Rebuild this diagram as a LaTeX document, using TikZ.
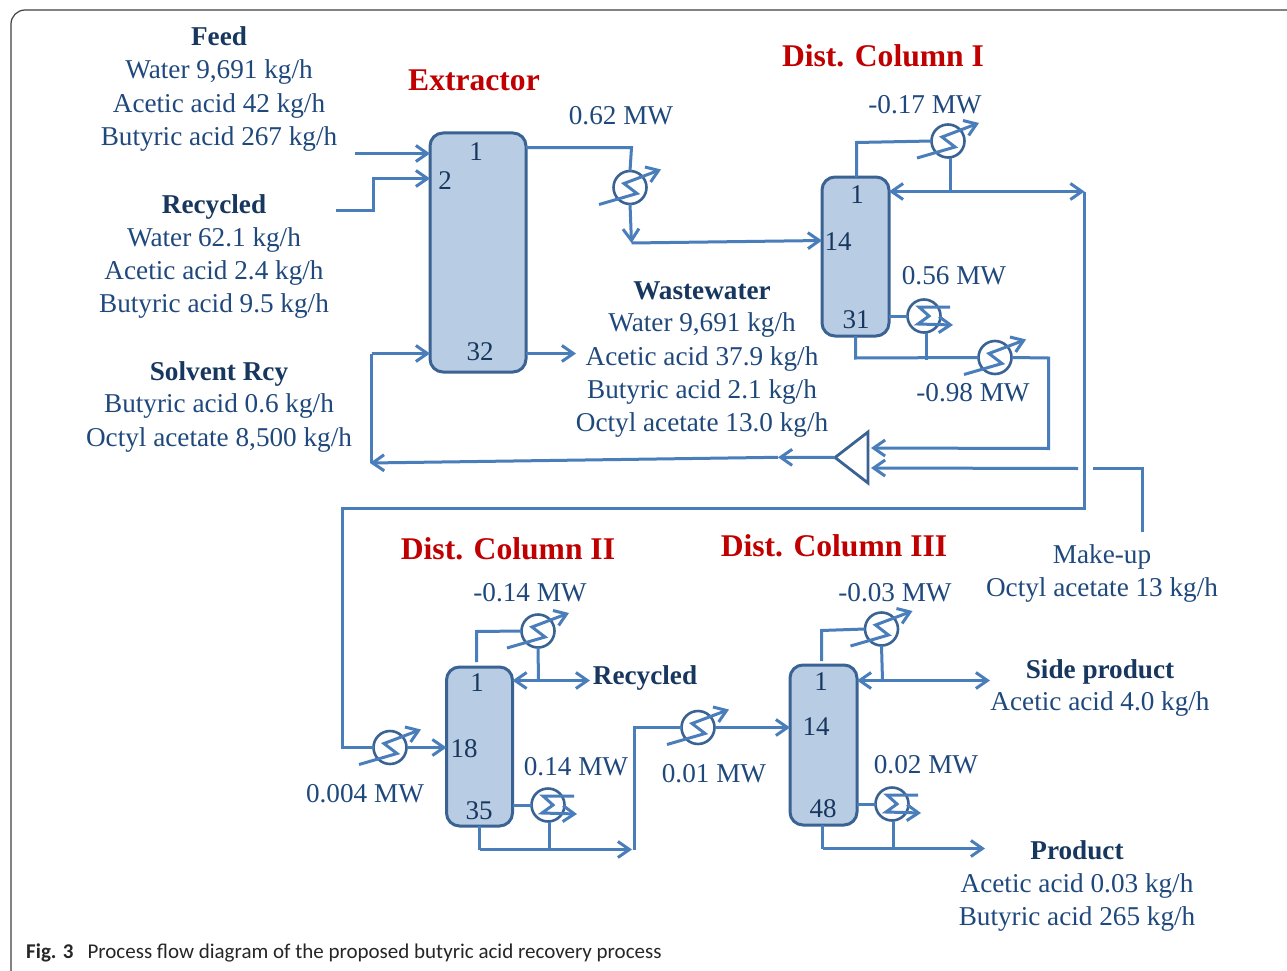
\documentclass[tikz,border=0pt]{standalone}
\usepackage{fontspec}
\setmainfont{Liberation Serif}
\newfontfamily\capfont{Carlito}
\usetikzlibrary{arrows.meta}
\definecolor{pipec}{HTML}{4A7EBB}
\definecolor{colfill}{HTML}{B8CCE4}
\definecolor{coledge}{HTML}{3A6394}
\definecolor{txtc}{HTML}{1F497D}
\definecolor{boldc}{HTML}{17375E}
\definecolor{redc}{HTML}{C00000}
\tikzset{
  x=1pt,y=-1pt,
  >={Straight Barb[length=11.5pt,width=16pt,line width=3pt]},
  pipe/.style={draw=pipec,line width=3pt,line join=miter},
  column/.style={draw=coledge,fill=colfill,line width=3pt,rounded corners=13pt,inner sep=0pt,outer sep=0pt},
  hxc/.style={circle,draw=coledge,line width=2.6pt,minimum size=33pt,inner sep=0pt,outer sep=0pt,fill=white},
  txt/.style={text=txtc,font=\fontsize{27.2}{29}\selectfont,inner sep=0pt,anchor=center,text height=19pt,text depth=0pt},
  hd/.style={text=boldc,font=\fontsize{27.2}{29}\selectfont\bfseries,inner sep=0pt,anchor=center,text height=19pt,text depth=0pt},
  ttl/.style={text=redc,font=\fontsize{31.6}{33}\selectfont\bfseries,inner sep=0pt,anchor=center,text height=22pt,text depth=0pt},
  num/.style={text=boldc,font=\fontsize{27}{29}\selectfont,inner sep=0pt,anchor=center,text height=19pt,text depth=0pt},
}
\newcommand{\hxer}[3]{%
  \node[hxc] (#1) at (#2,#3) {};
  \draw[pipe,->] ([shift={(-31,17)}]#1.center) -- ([shift={(7,6)}]#1.center) -- ([shift={(-6,-4)}]#1.center) -- ([shift={(31,-18)}]#1.center);
}
\newcommand{\reb}[3]{%
  \node[hxc] (#1) at (#2,#3) {};
  \draw[pipe,->] ([shift={(26,-9)}]#1.center) -- ([shift={(-5,-9)}]#1.center) -- ([shift={(5,0)}]#1.center) -- ([shift={(-6,8)}]#1.center) -- ([shift={(29,9)}]#1.center);
}
\begin{document}
\begin{tikzpicture}
\useasboundingbox (0,0) rectangle (1287,971);
\fill[white] (0,0) rectangle (1287,971);
% frame
\coordinate (fa) at (11,971);
\coordinate (fb) at (1287,10);
\draw[draw=black!75,line width=1.2pt,rounded corners=14pt] (fa) |- (fb);

% columns
\node[column,minimum width=96pt,minimum height=239pt] (ext) at (478,252.5) {};
\node[column,minimum width=67pt,minimum height=159pt] (c1) at (855.5,256.5) {};
\node[column,minimum width=66pt,minimum height=159pt] (c2) at (479.5,746.5) {};
\node[column,minimum width=67pt,minimum height=160pt] (c3) at (823.5,745) {};

% exchangers
\hxer{hA}{630}{187.5}
\hxer{hB}{948}{141}
\hxer{hC}{995}{357.5}
\reb{rA}{924}{316}
\hxer{hD}{538}{631}
\hxer{hE}{390}{747.5}
\reb{rB}{548}{805}
\hxer{hF}{698}{727.5}
\hxer{hG}{881.5}{629}
\reb{rC}{892}{804}

% splitter
\draw[draw=coledge,line width=2.8pt,line join=miter] (868,432) -- (835,457.5) -- (868,483) -- cycle;
\coordinate (splT) at (835,457.5);
\coordinate (splR1) at (871,448);
\coordinate (splR2) at (871,468);

% free ends and elbows
\coordinate (feedS) at (355,153.5);
\coordinate (recS) at (336,210.5);
\coordinate (recM) at (373.5,210.5);
\coordinate (recN) at (373.5,178.5);
\coordinate (wasteE) at (576,353.5);
\coordinate (solvE) at (370,463);
\coordinate (solvM) at (778,457.3);
\coordinate (solvC) at (371.5,353.5);
\coordinate (solvB) at (371.5,463);
\coordinate (topE) at (631.5,147.5);
\coordinate (hAo) at (631.5,243);
\coordinate (rcR) at (1084.5,191.5);
\coordinate (rcB) at (1084.5,508.5);
\coordinate (rcL) at (342.5,508.5);
\coordinate (rcH) at (342.5,747.5);
\coordinate (muS) at (1142.5,532);
\coordinate (muT) at (1142.5,468.5);
\coordinate (muG) at (1093,468.5);
\coordinate (muL) at (1078,468.5);
\coordinate (c1T) at (856.5,142.5);
\coordinate (c1B) at (855.5,358);
\coordinate (c1J) at (926.5,359.5);
\coordinate (hCR) at (1048.5,358);
\coordinate (hCB) at (1048.5,448.5);
\coordinate (hBJ) at (950.5,191.5);
\coordinate (c2S) at (476.5,662);
\coordinate (c2T) at (476.5,631.5);
\coordinate (recE) at (590,680.5);
\coordinate (c2J) at (538.5,680.5);
\coordinate (c2B) at (479.5,849.5);
\coordinate (c2E) at (632,849.5);
\coordinate (c2R) at (549.5,849.5);
\coordinate (upB) at (634.5,849.5);
\coordinate (upT) at (634.5,727.5);
\coordinate (c3S) at (821.5,661);
\coordinate (c3T) at (821.5,630.5);
\coordinate (sideE) at (990,680.5);
\coordinate (c3J) at (882.5,680.5);
\coordinate (c3B) at (822.5,848.5);
\coordinate (c3E) at (985,848.5);
\coordinate (c3R) at (893.5,848.5);

% connectors: extractor
\draw[pipe,->] (feedS) -- (ext.west |- feedS);
\draw[pipe,->] (recS) -- (recM) -- (recN) -- (ext.west |- recN);
\draw[pipe] (ext.east |- topE) -- (topE) -- (hA.north);
\draw[pipe,->] (hA.south) -- (hAo);
\draw[pipe,->] (hAo) -- (c1.west |- 0,240.5);
\draw[pipe,->] (ext.east |- wasteE) -- (wasteE);
\draw[pipe,->] (solvC -| solvB) -- (ext.west |- solvC);
\draw[pipe] (solvC) -- (solvB);
\draw[pipe,->] (splT) -- (solvM);
\draw[pipe,->] (solvM) -- (solvE);
% column I
\draw[pipe] (c1.north -| c1T) -- (c1T) -- (hB.west);
\draw[pipe] (hB.south -| hBJ) -- (hBJ);
\draw[pipe,<->] (c1.east |- rcR) -- (rcR);
\draw[pipe] (rcR) -- (rcB) -- (rcL) -- (rcH) -- (hE.west);
\draw[pipe,->] (hE.east) -- (c2.west |- hE.east);
\draw[pipe] (c1.east |- rA.west) -- (rA.west);
\draw[pipe] (c1.south -| c1B) -- (c1B) -- (hC.west);
\draw[pipe] (c1J |- rA.south) -- (c1J);
\draw[pipe,->] (hC.east) -- (hCR) -- (hCB) -- (splR1);
\draw[pipe] (muS) -- (muT) -- (muG);
\draw[pipe,->] (muL) -- (splR2);
% column II
\draw[pipe] (c2S) -- (c2T) -- (hD.west);
\draw[pipe] (hD.south) -- (c2J);
\draw[pipe,<->] (c2.east |- recE) -- (recE);
\draw[pipe] (c2.east |- rB.west) -- (rB.west);
\draw[pipe] (c2.south -| c2B) -- (c2B);
\draw[pipe,->] (c2B) -- (c2E);
\draw[pipe] (rB.south -| c2R) -- (c2R);
\draw[pipe] (upB) -- (upT) -- (hF.west);
\draw[pipe,->] (hF.east) -- (c3.west |- hF.east);
% column III
\draw[pipe] (c3S) -- (c3T) -- (hG.west);
\draw[pipe] (hG.south) -- (c3J);
\draw[pipe,<->] (c3.east |- sideE) -- (sideE);
\draw[pipe] (c3.east |- rC.west) -- (rC.west);
\draw[pipe] (c3.south -| c3B) -- (c3B);
\draw[pipe,->] (c3B) -- (c3E);
\draw[pipe] (rC.south -| c3R) -- (c3R);

% column numbers
\node[num] (n1) at (476,151) {1};
\node[num] (n2) at (445,180) {2};
\node[num] (n3) at (480,351) {32};
\node[num] (n4) at (857,194) {1};
\node[num] (n5) at (838,241) {14};
\node[num] (n6) at (856,319) {31};
\node[num] (n7) at (477,682) {1};
\node[num] (n8) at (464,748) {18};
\node[num] (n9) at (479,810) {35};
\node[num] (n10) at (821,681) {1};
\node[num] (n11) at (816,726) {14};
\node[num] (n12) at (823,808) {48};

% titles
\node[ttl] (t1) at (474,80) {Extractor};
\node[ttl] (t2) at (883,56) {Dist. Column I};
\node[ttl] (t3) at (508,548) {Dist. Column II};
\node[ttl] (t4) at (834,545) {Dist. Column III};

% duties
\node[txt] (d1) at (621,115) {0.62 MW};
\node[txt] (d2) at (925,104) {-0.17 MW};
\node[txt] (d3) at (954,275) {0.56 MW};
\node[txt] (d4) at (973,392) {-0.98 MW};
\node[txt] (d5) at (530,592) {-0.14 MW};
\node[txt] (d6) at (576,766) {0.14 MW};
\node[txt] (d7) at (365,793) {0.004 MW};
\node[txt] (d8) at (714,773) {0.01 MW};
\node[txt] (d9) at (895,592) {-0.03 MW};
\node[txt] (d10) at (926,764) {0.02 MW};

% stream tables
\node[hd] (a0) at (219,36) {Feed};
\node[txt] (a1) at (219,69) {Water 9,691 kg/h};
\node[txt] (a2) at (219,103) {Acetic acid 42 kg/h};
\node[txt] (a3) at (219,136) {Butyric acid 267 kg/h};
\node[hd] (b0) at (214,204) {Recycled};
\node[txt] (b1) at (214,237) {Water 62.1 kg/h};
\node[txt] (b2) at (214,270) {Acetic acid 2.4 kg/h};
\node[txt] (b3) at (214,303) {Butyric acid 9.5 kg/h};
\node[hd] (s0) at (219,371) {Solvent Rcy};
\node[txt] (s1) at (219,403) {Butyric acid 0.6 kg/h};
\node[txt] (s2) at (219,437) {Octyl acetate 8,500 kg/h};
\node[hd] (w0) at (702,290) {Wastewater};
\node[txt] (w1) at (702,322) {Water 9,691 kg/h};
\node[txt] (w2) at (702,356) {Acetic acid 37.9 kg/h};
\node[txt] (w3) at (702,389) {Butyric acid 2.1 kg/h};
\node[txt] (w4) at (702,422) {Octyl acetate 13.0 kg/h};
\node[txt] (m0) at (1102,554) {Make-up};
\node[txt] (m1) at (1102,587) {Octyl acetate 13 kg/h};
\node[hd] (r0) at (645,675) {Recycled};
\node[hd] (p0) at (1100,669) {Side product};
\node[txt] (p1) at (1100,701) {Acetic acid 4.0 kg/h};
\node[hd] (q0) at (1077,850) {Product};
\node[txt] (q1) at (1077,883) {Acetic acid 0.03 kg/h};
\node[txt] (q2) at (1077,916) {Butyric acid 265 kg/h};

% caption
\node[anchor=west,inner sep=0pt,text=black!85,font=\capfont\fontsize{21}{24}\selectfont] (cap) at (26,953) {\textbf{Fig. 3}\hspace{14pt}Process flow diagram of the proposed butyric acid recovery process};
\end{tikzpicture}
\end{document}
